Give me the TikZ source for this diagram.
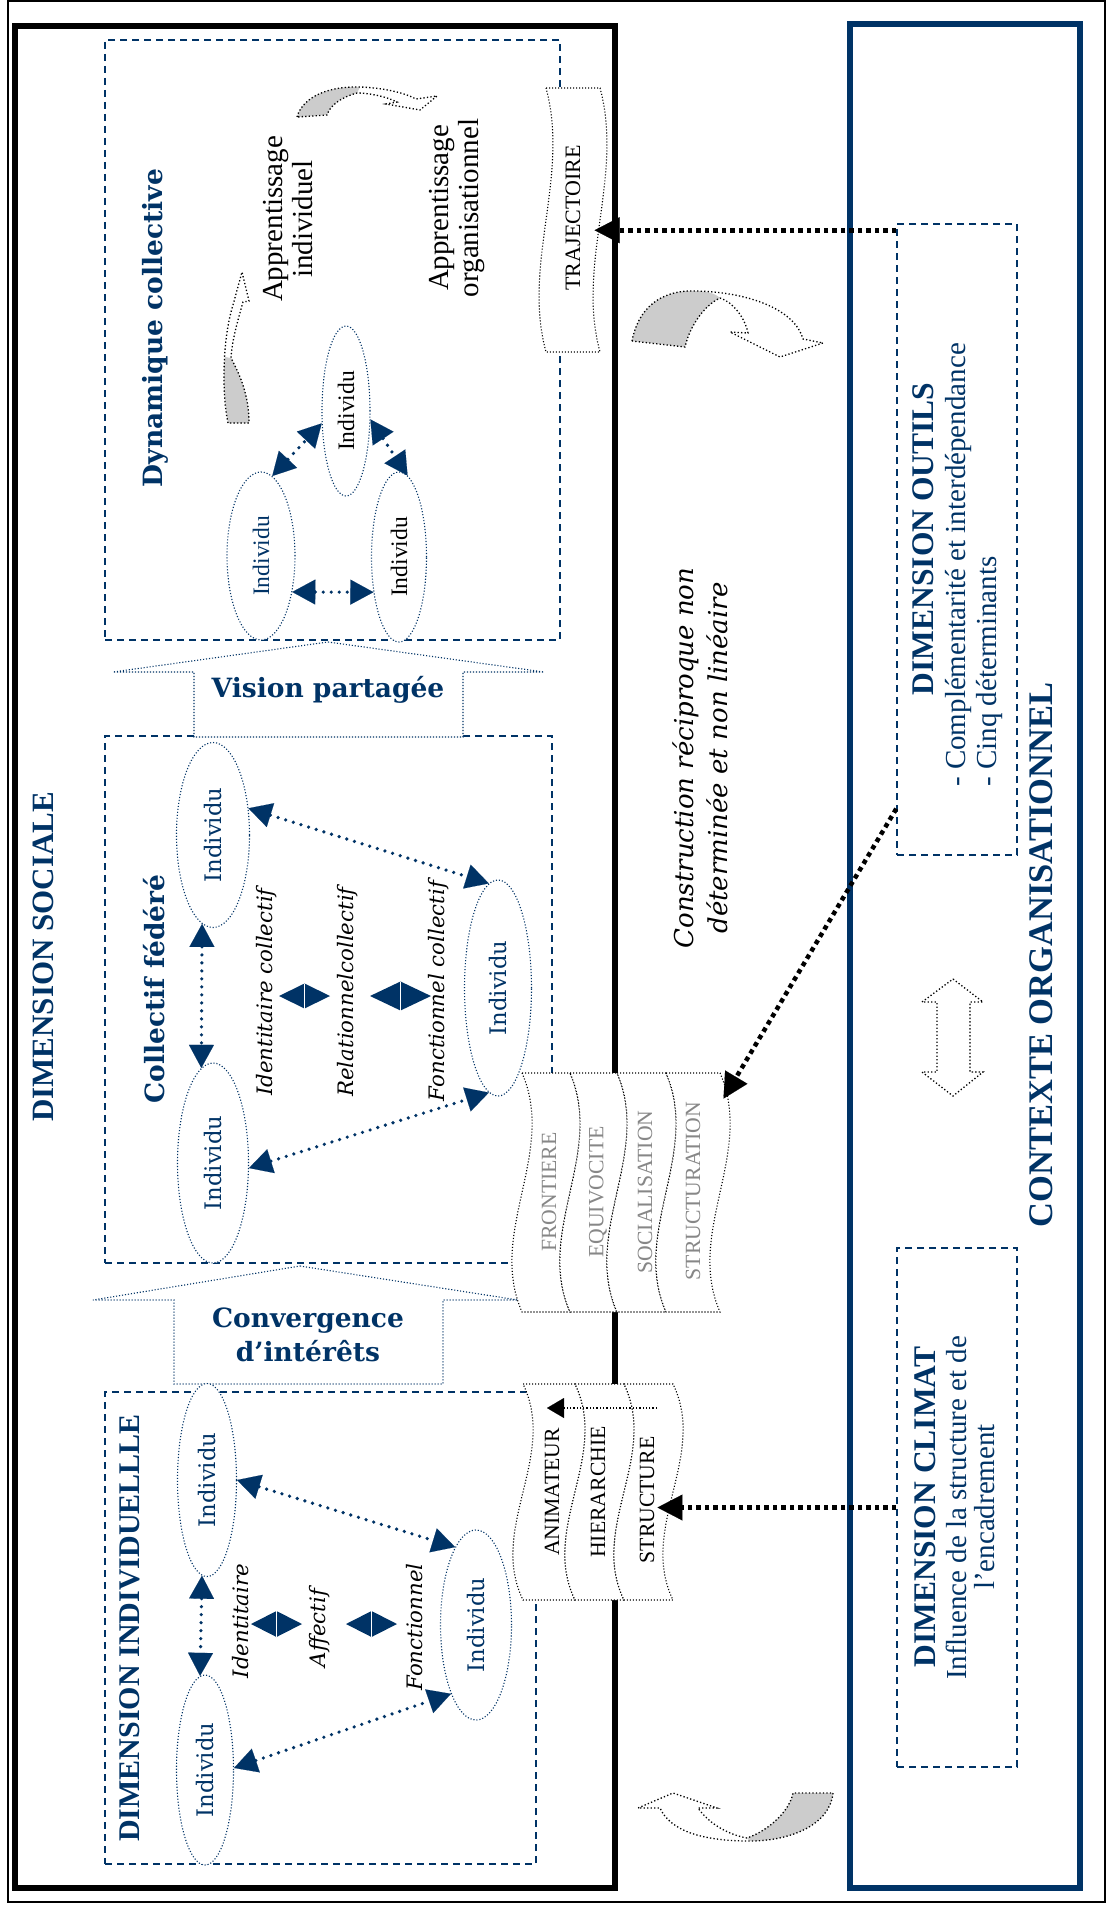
\documentclass[tikz,border=0pt]{standalone}
\usepackage{fontspec}
\setmainfont{Liberation Serif}
\newfontfamily\geo{DejaVu Serif}
\usetikzlibrary{shapes.geometric,arrows.meta}
\definecolor{navy}{RGB}{0,51,102}
\definecolor{tailgray}{RGB}{204,204,204}
\definecolor{stgray}{RGB}{135,135,135}
\newcommand{\fs}[2]{\fontsize{#1}{#2}\selectfont}
\newcommand{\wcol}[5]{\filldraw[wavecol] (#1,#3) -- (#2,#3) .. controls ({#2+#5},{#3+(#4-#3)/3}) and ({#2-#5},{#3+2*(#4-#3)/3}) .. (#2,#4) -- (#1,#4) .. controls ({#1-#5},{#3+2*(#4-#3)/3}) and ({#1+#5},{#3+(#4-#3)/3}) .. cycle;}
\newcommand{\dia}[4]{\fill[navy] (#1,#3) -- ({(#1+#2)/2},{#3-#4/2}) -- ({(#1+#2)/2},{#3+#4/2}) -- cycle;
\fill[navy] (#2,#3) -- ({(#1+#2)/2},{#3-#4/2}) -- ({(#1+#2)/2},{#3+#4/2}) -- cycle;
\draw[white,line width=0.8pt] ({(#1+#2)/2},{#3-#4/2}) -- ({(#1+#2)/2},{#3+#4/2});}
\tikzset{
 dbox/.style={draw=navy, line width=1.5pt, dash pattern=on 7pt off 5pt, inner sep=0pt},
 indiv/.style={ellipse, draw=navy, line width=1.1pt, dash pattern=on 1.1pt off 1.9pt, fill=white, inner sep=0pt},
 wavecol/.style={fill=white, draw=black, line width=1.1pt, dash pattern=on 1.1pt off 1.9pt},
 blockarr/.style={fill=white, draw=navy, line width=1.1pt, dash pattern=on 1.1pt off 1.9pt},
 curvarr/.style={draw=black, line width=1.3pt, dash pattern=on 1.3pt off 2.2pt},
 narrow/.style={draw=navy, line width=3.6pt, dash pattern=on 0pt off 8pt, line cap=round, {Triangle[length=23pt,width=25pt,line width=0.1pt]}-{Triangle[length=23pt,width=25pt,line width=0.1pt]}},
 karrow/.style={draw=black, line width=4.5pt, dash pattern=on 4.5pt off 4pt, -{Triangle[length=25pt,width=26pt,line width=0.1pt]}},
 sarrow/.style={draw=black, line width=1.3pt, dash pattern=on 1.3pt off 2pt, -{Triangle[length=17pt,width=20pt,line width=0.1pt]}},
 rt/.style={rotate=90, inner sep=3pt},
 ttl/.style={rt, text=navy, font=\bfseries\fs{31}{34}},
 gttl/.style={rt, text=navy, font=\geo\bfseries\fs{26.5}{30}},
 gital/.style={rt, font=\geo\itshape\fs{21.3}{24}},
 gind/.style={rt, text=navy, font=\geo\fs{22.8}{26}},
 tind/.style={rt, font=\fs{23.6}{26}},
 stk/.style={rt, font=\fs{21.7}{24}},
}
\begin{document}
\begin{tikzpicture}[x=1pt,y=-1pt]
\useasboundingbox (0,0) rectangle (1106,1905);
\fill[white] (0,0) rectangle (1106,1905);
% frames
\draw[line width=2pt] (8,1) rectangle (1104.5,1902);
\draw[line width=6pt] (15,26) rectangle (615,1888);
\draw[navy, line width=5.5pt] (850,24) rectangle (1080,1888);
% dashed boxes
\node[dbox, minimum width=455pt, minimum height=600pt] (dynbox) at (332.5,340) {};
\node[dbox, minimum width=447pt, minimum height=527pt] (colbox) at (328.5,999.5) {};
\node[dbox, minimum width=431pt, minimum height=472pt] (indbox) at (320.5,1628) {};
\node[dbox, minimum width=120pt, minimum height=631pt] (outils) at (957,539.5) {};
\node[dbox, minimum width=120pt, minimum height=519pt] (climat) at (957,1507.5) {};
% block arrows
\filldraw[blockarr] (328,642) -- (544,672) -- (463,672) -- (463,737) -- (194,737) -- (194,672) -- (113,672) -- cycle;
\node[font=\geo\bfseries\fs{26.5}{30}, text=navy] (vision) at (328,690) {Vision partagée};
\filldraw[blockarr] (300,1266) -- (518,1300) -- (443,1300) -- (443,1384) -- (174,1384) -- (174,1300) -- (93,1300) -- cycle;
\node[align=center, font=\geo\bfseries\fs{26.5}{34}, text=navy] (converg) at (308,1335) {Convergence\\d’intérêts};
% titles
\node[ttl] (socl) at (43,957) {DIMENSION SOCIALE};
\node[gttl] (dyn) at (155,328) {Dynamique collective};
\node[gttl] (coll) at (154,989) {Collectif fédéré};
\node[ttl, font=\bfseries\fs{30}{33}] (indt) at (130,1628) {DIMENSION INDIVIDUELLLE};
\node[rt, align=center, font=\fs{29}{30}] (appi) at (288.5,219) {Apprentissage\\individuel};
\node[rt, align=center, font=\fs{29}{30}] (appo) at (457.5,208) {Apprentissage\\organisationnel};
% dynamique ellipses
\node[indiv, minimum width=68pt, minimum height=168pt] (E1) at (261,556) {};
\node[indiv, minimum width=48pt, minimum height=170pt] (E2) at (346,411) {};
\node[indiv, minimum width=55pt, minimum height=170pt] (E3) at (399,557) {};
\node[tind, text=navy] (E1t) at (E1) {Individu};
\node[tind] (E2t) at (E2) {Individu};
\node[tind] (E3t) at (E3) {Individu};
\draw[narrow] (E1.-49) -- (E3.234);
\draw[narrow] (E1.82) -- (E2.207);
\draw[narrow] (E2.-19) -- (E3.84);
% collectif ellipses
\node[indiv, minimum width=73pt, minimum height=185pt] (C1) at (213,835) {};
\node[indiv, minimum width=71pt, minimum height=200pt] (C2) at (213,1163) {};
\node[indiv, minimum width=67pt, minimum height=216pt] (C3) at (498,988) {};
\node[gind] (C1t) at (C1) {Individu};
\node[gind] (C2t) at (C2) {Individu};
\node[gind] (C3t) at (C3) {Individu};
\draw[narrow] (C1.-97) -- (C2.97);
\draw[narrow] (C1.37) -- (C3.95);
\draw[narrow] (C2.-8) -- (C3.265);
\node[gital] (idc) at (267,992) {Identitaire collectif};
\node[gital] (rec) at (348,992) {Relationnelcollectif};
\node[gital] (foc) at (439,991) {Fonctionnel collectif};
\dia{279}{330}{996}{25}
\dia{370}{431}{996}{29}
% individuelle ellipses
\node[indiv, minimum width=59pt, minimum height=193pt] (I1) at (207,1480) {};
\node[indiv, minimum width=57pt, minimum height=190pt] (I2) at (205,1770) {};
\node[indiv, minimum width=71pt, minimum height=190pt] (I3) at (476,1625) {};
\node[gind] (I1t) at (I1) {Individu};
\node[gind] (I2t) at (I2) {Individu};
\node[gind] (I3t) at (I3) {Individu};
\draw[narrow] (I1.-93) -- (I2.93);
\draw[narrow] (I1.0) -- (I3.105);
\draw[narrow] (I2.4) -- (I3.250);
\node[gital] (idi) at (241,1621) {Identitaire};
\node[gital] (afi) at (320,1628) {Affectif};
\node[gital] (foi) at (415,1627) {Fonctionnel};
\dia{251}{302}{1624}{26}
\dia{346}{397}{1624}{26}
% banners
\wcol{546}{600}{88}{352}{24}
\node[stk, inner ysep=14pt, font=\fs{22}{24}] (trajt) at (573,218) {TRAJECTOIRE};
\wcol{522}{570}{1073}{1312}{35}
\wcol{570}{617}{1073}{1312}{35}
\wcol{617}{666}{1073}{1312}{35}
\wcol{666}{720}{1073}{1312}{35}
\node[stk, text=stgray] (frt) at (549,1192) {FRONTIERE};
\node[stk, text=stgray] (eqt) at (598,1192) {EQUIVOCITE};
\node[stk, text=stgray] (sot) at (645,1192) {SOCIALISATION};
\node[stk, text=stgray, inner ysep=23pt] (strc) at (693,1191) {STRUCTURATION};
\wcol{523}{575}{1384}{1600}{35}
\wcol{575}{624}{1384}{1600}{35}
\wcol{624}{673}{1384}{1600}{35}
\node[stk] (animt) at (552,1492) {ANIMATEUR};
\node[stk] (hiet) at (598,1492) {HIERARCHIE};
\node[stk] (strt) at (647,1500) {STRUCTURE};
\coordinate (sa1) at (657,1408);
\coordinate (sa2) at (547,1408);
\draw[sarrow] (sa1) -- (sa2);
% right column texts
\node[rt, align=center, font=\geo\itshape\fs{26}{34}] (constr) at (700,758) {Construction réciproque non\\déterminée et non linéaire};
\node[ttl, font=\bfseries\fs{31.5}{34}] (outt) at (923,539) {DIMENSION OUTILS};
\node[rt, inner sep=0pt, anchor=west, align=left, text=navy, font=\fs{29}{31}] (outl) at (973.5,787) {- Complémentarité et interdépendance\\- Cinq déterminants};
\node[ttl, font=\bfseries\fs{31.5}{34}] (clit) at (925,1507) {DIMENSION CLIMAT};
\node[rt, text=navy, font=\fs{29}{31}] (cli2) at (956,1508) {Influence de la structure et de};
\node[rt, text=navy, font=\fs{29}{31}] (cli3) at (985,1507) {l’encadrement};
\node[ttl, font=\bfseries\fs{34.5}{38}] (ctx) at (1041,955) {CONTEXTE ORGANISATIONNEL};
% double arrow
\draw[curvarr] (953,979) -- (983,1002) -- (970,1002) -- (970,1072) -- (983,1072) -- (953,1096) -- (922,1072) -- (937,1072) -- (937,1002) -- (922,1002) -- cycle;
% black arrows
\draw[karrow] ([yshift=-7pt]outils.north west) -- ([yshift=-7pt]outils.north west -| trajt.south);
\draw[karrow] ([yshift=47pt]outils.south west) -- (strc.south east);
\draw[karrow] (climat.west) -- (climat.west -| strt.south);
% curved arrows
\fill[tailgray] (632,341) .. controls (640,300) and (670,290) .. (695,291) .. controls (705,291) and (715,293) .. (720,298) .. controls (705,305) and (690,325) .. (685,347) -- cycle;
\draw[curvarr] (632,341) .. controls (640,300) and (670,290) .. (695,291) .. controls (750,292) and (795,310) .. (803,339) -- (823,343) -- (780,357) -- (730,332) -- (748,333) .. controls (745,318) and (733,302) .. (720,298) .. controls (705,305) and (690,325) .. (685,347) -- cycle;
\fill[tailgray] (833,1793) .. controls (830,1825) and (790,1841) .. (750,1841) -- (747,1838) .. controls (770,1830) and (790,1810) .. (793,1793) -- cycle;
\draw[curvarr] (833,1793) .. controls (830,1825) and (790,1841) .. (750,1841) .. controls (700,1841) and (670,1830) .. (660,1808) -- (638,1808) -- (673,1793) -- (717,1808) -- (698,1808) .. controls (710,1825) and (730,1835) .. (747,1838) .. controls (770,1830) and (790,1810) .. (793,1793) -- cycle;
\fill[tailgray] (297,117) .. controls (303,96) and (330,86) .. (360,87) -- (357,93) .. controls (342,97) and (330,105) .. (327,115) -- cycle;
\draw[curvarr] (297,117) .. controls (303,96) and (330,86) .. (360,87) .. controls (385,88) and (405,93) .. (416,99) -- (437,96) -- (420,110) -- (386,104) -- (397,102) .. controls (385,96) and (368,93) .. (357,93) .. controls (342,97) and (330,105) .. (327,115) -- cycle;
\fill[tailgray] (228,423) .. controls (224,400) and (223,375) .. (225,357) -- (231,358) .. controls (240,375) and (249,395) .. (249,423) -- cycle;
\draw[curvarr] (228,423) .. controls (222,395) and (222,340) .. (233,305) -- (242,272) -- (249,301) -- (243,302) .. controls (238,320) and (232,340) .. (231,358) .. controls (240,375) and (249,395) .. (249,423) -- cycle;
\end{tikzpicture}
\end{document}
